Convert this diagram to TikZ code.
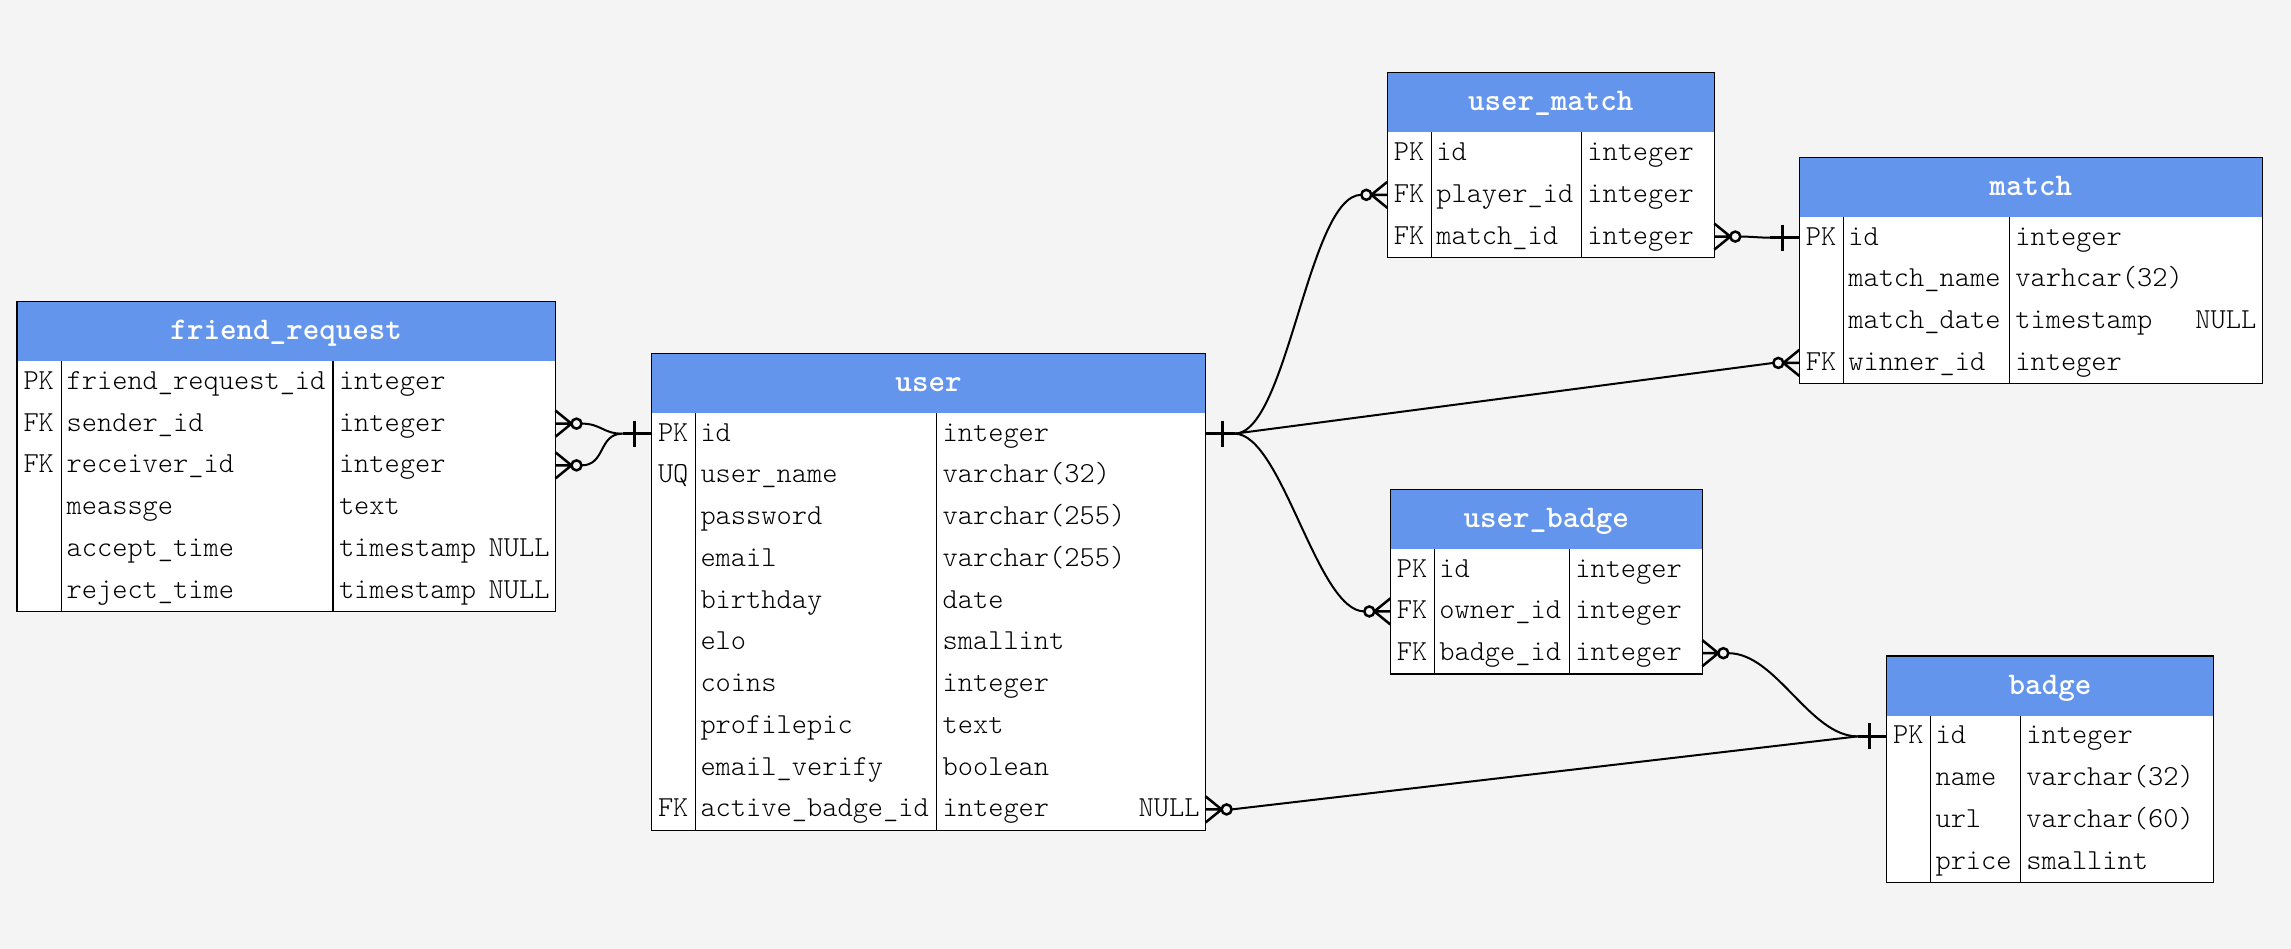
\documentclass[tikz,border=0pt]{standalone}
\usepackage{fontspec}
\usetikzlibrary{calc}
\definecolor{bgc}{HTML}{F4F4F4}
\definecolor{hdrc}{HTML}{6495ED}
\newcommand{\HH}{59.5}
\newcommand{\RH}{41.75}
\tikzset{
  boxline/.style={draw=black, line width=1.3pt},
  gridline/.style={draw=black, line width=1.2pt},
  rowbox/.style={draw=none, inner sep=0pt, outer sep=0pt},
  celltxt/.style={inner sep=0pt, outer sep=0pt, text=black, font=\ttfamily\fontseries{l}\fontsize{29}{34}\selectfont},
  titletxt/.style={inner sep=0pt, outer sep=0pt, text=white, font=\ttfamily\bfseries\fontsize{31.5}{36}\selectfont},
  mk/.style={draw=black, line width=2.5pt},
  conn/.style={draw=black, line width=2pt},
}
\newcommand{\erbegin}[8]{%
  \def\erid{#1}\def\erxa{#2}\def\erya{#3}\def\erxk{#4}\def\erxt{#5}\def\erxb{#6}%
  \pgfmathsetmacro\erhb{#3+\HH}%
  \pgfmathsetmacro\erbot{#3+\HH+#7*\RH}%
  \pgfmathsetmacro\ermid{(#2+#6)/2}%
  \pgfmathsetmacro\erty{#3+\HH/2+8.5}%
  \fill[white] (#2,\erhb) rectangle (#6,\erbot);
  \fill[hdrc] (#2,#3) rectangle (#6,\erhb);
  \draw[gridline] (#4,\erhb) -- (#4,\erbot) (#5,\erhb) -- (#5,\erbot);
  \draw[boxline] (#2,#3) rectangle (#6,\erbot);
  \node[titletxt, anchor=base] (#1-title) at (\ermid,\erty) {#8};
}
\newcommand{\errow}[5]{%
  \pgfmathsetmacro\yc{\erya+\HH+(#1-0.5)*\RH}%
  \pgfmathsetmacro\yb{\yc+7.5}%
  \pgfmathsetmacro\rw{\erxb-\erxa}%
  \node[rowbox, minimum width=\rw, minimum height=\RH, anchor=west] (\erid-#1) at (\erxa,\yc) {};
  \node[celltxt, anchor=base west] (\erid-#1-k) at ({\erxa+6.5},\yb) {#2};
  \node[celltxt, anchor=base west] (\erid-#1-n) at ({\erxk+5},\yb) {#3};
  \node[celltxt, anchor=base west] (\erid-#1-t) at ({\erxt+6},\yb) {#4};
  \node[celltxt, anchor=base east] (\erid-#1-z) at ({\erxb-6},\yb) {#5};
}
\newcommand{\mkmany}[2]{%
  \begin{scope}[shift={(#1)}, xscale=#2]
    \draw[mk] (0,-13) -- (16,0) -- (0,13) (0,0) -- (16,0);
    \draw[mk, fill=bgc] (21,0) circle (5);
  \end{scope}}
\newcommand{\mkone}[2]{%
  \begin{scope}[shift={(#1)}, xscale=#2]
    \draw[mk] (0,0) -- (29,0) (17,-13) -- (17,13);
  \end{scope}}
\begin{document}
\begin{tikzpicture}[x=1pt, y=-1pt]
\fill[bgc] (0,0) rectangle (2291,949);
\useasboundingbox (0,0) rectangle (2291,949);

% friend_request
\erbegin{fr}{17}{301.5}{61.6}{333}{555.5}{6}{friend\_request}
\errow{1}{PK}{friend\_request\_id}{integer}{}
\errow{2}{FK}{sender\_id}{integer}{}
\errow{3}{FK}{receiver\_id}{integer}{}
\errow{4}{}{meassge}{text}{}
\errow{5}{}{accept\_time}{timestamp}{NULL}
\errow{6}{}{reject\_time}{timestamp}{NULL}

% user
\erbegin{user}{651.5}{353.3}{695.5}{936.6}{1205.6}{10}{user}
\errow{1}{PK}{id}{integer}{}
\errow{2}{UQ}{user\_name}{varchar(32)}{}
\errow{3}{}{password}{varchar(255)}{}
\errow{4}{}{email}{varchar(255)}{}
\errow{5}{}{birthday}{date}{}
\errow{6}{}{elo}{smallint}{}
\errow{7}{}{coins}{integer}{}
\errow{8}{}{profilepic}{text}{}
\errow{9}{}{email\_verify}{boolean}{}
\errow{10}{FK}{active\_badge\_id}{integer}{NULL}

% user_match
\erbegin{um}{1387.3}{72.7}{1431.3}{1581.3}{1714.3}{3}{user\_match}
\errow{1}{PK}{id}{integer}{}
\errow{2}{FK}{player\_id}{integer}{}
\errow{3}{FK}{match\_id}{integer}{}

% match
\erbegin{match}{1799.3}{157.3}{1843.3}{2009.3}{2262.3}{4}{match}
\errow{1}{PK}{id}{integer}{}
\errow{2}{}{match\_name}{varhcar(32)}{}
\errow{3}{}{match\_date}{timestamp}{NULL}
\errow{4}{FK}{winner\_id}{integer}{}

% user_badge
\erbegin{ub}{1390.3}{489.3}{1434.3}{1569.3}{1702.3}{3}{user\_badge}
\errow{1}{PK}{id}{integer}{}
\errow{2}{FK}{owner\_id}{integer}{}
\errow{3}{FK}{badge\_id}{integer}{}

% badge
\erbegin{badge}{1886.7}{656}{1930.5}{2020.3}{2213.3}{4}{badge}
\errow{1}{PK}{id}{integer}{}
\errow{2}{}{name}{varchar(32)}{}
\errow{3}{}{url}{varchar(60)}{}
\errow{4}{}{price}{smallint}{}

% connector end points
\coordinate (fr2e) at ($(fr-2.east)+(26,0)$);
\coordinate (fr3e) at ($(fr-3.east)+(26,0)$);
\coordinate (userLj) at ($(user-1.west)+(-29,0)$);
\coordinate (userRj) at ($(user-1.east)+(29,0)$);
\coordinate (um2w) at ($(um-2.west)+(-26,0)$);
\coordinate (um3e) at ($(um-3.east)+(26,0)$);
\coordinate (m1j) at ($(match-1.west)+(-29,0)$);
\coordinate (m4w) at ($(match-4.west)+(-26,0)$);
\coordinate (ub2w) at ($(ub-2.west)+(-26,0)$);
\coordinate (ub3e) at ($(ub-3.east)+(26,0)$);
\coordinate (b1j) at ($(badge-1.west)+(-29,0)$);
\coordinate (u10e) at ($(user-10.east)+(26,0)$);

% connectors
\draw[conn] (fr2e) to[out=0, in=180, looseness=1.2] (userLj);
\draw[conn] (fr3e) to[out=0, in=180, looseness=1.2] (userLj);
\draw[conn] (userRj) to[out=0, in=180, looseness=0.5] (um2w);
\draw[conn] (userRj) -- (m4w);
\draw[conn] (userRj) to[out=0, in=180, looseness=0.55] (ub2w);
\draw[conn] (um3e) to[out=0, in=180] (m1j);
\draw[conn] (ub3e) to[out=0, in=180, looseness=0.8] (b1j);
\draw[conn] (u10e) -- (b1j);

% markers
\mkmany{fr-2.east}{1}
\mkmany{fr-3.east}{1}
\mkone{user-1.west}{-1}
\mkone{user-1.east}{1}
\mkmany{um-2.west}{-1}
\mkmany{um-3.east}{1}
\mkone{match-1.west}{-1}
\mkmany{match-4.west}{-1}
\mkmany{ub-2.west}{-1}
\mkmany{ub-3.east}{1}
\mkone{badge-1.west}{-1}
\mkmany{user-10.east}{1}
\end{tikzpicture}
\end{document}
